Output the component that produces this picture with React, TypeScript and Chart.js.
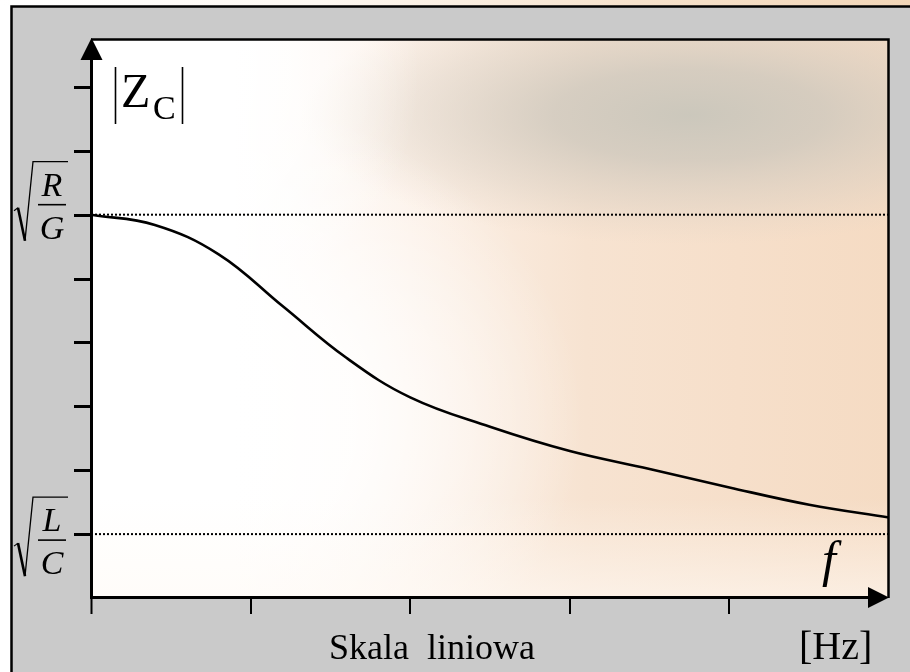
import { useEffect, useRef } from 'react';
import { Chart, registerables } from 'chart.js';

Chart.register(...registerables);

// Frequency (linear scale, arbitrary units) and |Zc| magnitude (arbitrary units)
const freq = [0, 0.4, 0.8, 1.2, 1.6, 2.0, 2.5, 3.0, 3.5, 4.0, 4.5, 5.0];
const impedance = [6.0, 5.84, 5.38, 4.57, 3.76, 3.14, 2.68, 2.3, 2.02, 1.73, 1.46, 1.26];
const levelRG = 6; // sqrt(R/G)
const levelLC = 1; // sqrt(L/C)
const xTicks = [0, 1, 2, 3, 4];
const yTicks = [1, 2, 3, 4, 5, 6, 7, 8];
const xMin = 0;
const xMax = 5;
const yMin = 0;
const yMax = 8.75;
const xTitle = 'Skala  liniowa';
const unitLabel = '[Hz]';
const yTitleMain = 'Z';
const yTitleSub = 'C';
const xSymbol = 'f';

const SERIF = '"Liberation Serif", "Times New Roman", serif';

const backdrop = {
  id: 'backdrop',
  beforeDraw(chart: any) {
    const ctx = chart.ctx as CanvasRenderingContext2D;
    const W = chart.width;
    const H = chart.height;
    ctx.save();
    ctx.fillStyle = '#ffffff';
    ctx.fillRect(0, 0, W, H);
    // top strip
    const tg = ctx.createLinearGradient(0, 0, W, 0);
    tg.addColorStop(0, '#ffffff');
    tg.addColorStop(0.35, '#fdf8f2');
    tg.addColorStop(0.7, '#f6e2cc');
    tg.addColorStop(1, '#f2d6b8');
    ctx.fillStyle = tg;
    ctx.fillRect(0, 0, W, 6);
    // gray panel
    ctx.fillStyle = '#cacaca';
    ctx.fillRect(11, 6, W - 11, H - 6);
    ctx.strokeStyle = '#000';
    ctx.lineWidth = 2.5;
    ctx.beginPath();
    ctx.moveTo(11.5, H);
    ctx.lineTo(11.5, 6.5);
    ctx.lineTo(W, 6.5);
    ctx.stroke();

    // plot area background
    const { left, top, right, bottom } = chart.chartArea;
    const w = right - left;
    const h = bottom - top;
    ctx.beginPath();
    ctx.rect(left, top, w, h);
    ctx.clip();
    const g = ctx.createLinearGradient(left, 0, right, 0);
    g.addColorStop(0, '#ffffff');
    g.addColorStop(0.18, '#ffffff');
    g.addColorStop(0.4, '#fcf1e8');
    g.addColorStop(0.62, '#f7e3d1');
    g.addColorStop(1, '#f5dbc3');
    ctx.fillStyle = g;
    ctx.fillRect(left, top, w, h);

    // gray cloud upper right
    ctx.save();
    ctx.translate(690, 115);
    ctx.scale(3.0, 1);
    const rg = ctx.createRadialGradient(0, 0, 0, 0, 0, 130);
    rg.addColorStop(0, 'rgba(201,198,187,0.95)');
    rg.addColorStop(0.35, 'rgba(206,200,189,0.8)');
    rg.addColorStop(0.7, 'rgba(215,206,194,0.4)');
    rg.addColorStop(1, 'rgba(225,212,198,0)');
    ctx.fillStyle = rg;
    ctx.beginPath();
    ctx.arc(0, 0, 130, 0, Math.PI * 2);
    ctx.fill();
    ctx.restore();

    // white glow bottom-left / left
    ctx.save();
    ctx.translate(170, 420);
    ctx.scale(1.25, 1);
    const wg = ctx.createRadialGradient(0, 0, 0, 0, 0, 330);
    wg.addColorStop(0, 'rgba(255,255,255,1)');
    wg.addColorStop(0.45, 'rgba(255,255,255,0.85)');
    wg.addColorStop(1, 'rgba(255,255,255,0)');
    ctx.fillStyle = wg;
    ctx.beginPath();
    ctx.arc(0, 0, 330, 0, Math.PI * 2);
    ctx.fill();
    ctx.restore();

    // lighter band near the x axis
    const bg = ctx.createLinearGradient(0, bottom - 100, 0, bottom);
    bg.addColorStop(0, 'rgba(255,250,245,0)');
    bg.addColorStop(1, 'rgba(255,250,245,0.6)');
    ctx.fillStyle = bg;
    ctx.fillRect(left, bottom - 100, w, 100);

    // white top-left
    const tl = ctx.createRadialGradient(140, 70, 0, 140, 70, 280);
    tl.addColorStop(0, 'rgba(255,255,255,1)');
    tl.addColorStop(0.5, 'rgba(255,255,255,0.7)');
    tl.addColorStop(1, 'rgba(255,255,255,0)');
    ctx.fillStyle = tl;
    ctx.fillRect(left, top, w, h);
    ctx.restore();
  },
};

function drawRadical(ctx: CanvasRenderingContext2D, barY: number, num: string, den: string) {
  const topY = barY - 43;
  const botY = barY + 36;
  ctx.save();
  ctx.strokeStyle = '#000';
  ctx.lineJoin = 'miter';
  ctx.lineWidth = 1.2;
  ctx.beginPath();
  ctx.moveTo(14, barY + 6);
  ctx.lineTo(18, barY + 3);
  ctx.stroke();
  ctx.lineWidth = 2.6;
  ctx.beginPath();
  ctx.moveTo(18, barY + 3);
  ctx.lineTo(25, botY);
  ctx.stroke();
  ctx.lineWidth = 1.3;
  ctx.beginPath();
  ctx.moveTo(25, botY);
  ctx.lineTo(33, topY);
  ctx.lineTo(68, topY);
  ctx.stroke();
  ctx.lineWidth = 1.6;
  ctx.beginPath();
  ctx.moveTo(38, barY);
  ctx.lineTo(66, barY);
  ctx.stroke();
  ctx.fillStyle = '#000';
  ctx.font = `italic 34px ${SERIF}`;
  ctx.textAlign = 'center';
  ctx.textBaseline = 'alphabetic';
  ctx.fillText(num, 52, barY - 9);
  ctx.fillText(den, 52, barY + 34);
  ctx.restore();
}

const axesDecor = {
  id: 'axesDecor',
  afterDatasetsDraw(chart: any) {
    const ctx = chart.ctx as CanvasRenderingContext2D;
    const { left, top, right, bottom } = chart.chartArea;
    const xs = chart.scales.x;
    const ys = chart.scales.y;
    ctx.save();
    ctx.strokeStyle = '#000';
    ctx.fillStyle = '#000';
    ctx.lineCap = 'butt';
    // top & right frame
    ctx.lineWidth = 2.5;
    ctx.beginPath();
    ctx.moveTo(left, top + 0.5);
    ctx.lineTo(right - 0.5, top + 0.5);
    ctx.lineTo(right - 0.5, bottom);
    ctx.stroke();
    // y axis
    ctx.lineWidth = 3;
    ctx.beginPath();
    ctx.moveTo(left + 0.5, top + 15);
    ctx.lineTo(left + 0.5, bottom + 1);
    ctx.stroke();
    // x axis
    ctx.beginPath();
    ctx.moveTo(left, bottom - 0.5);
    ctx.lineTo(right - 15, bottom - 0.5);
    ctx.stroke();
    // arrows
    ctx.beginPath();
    ctx.moveTo(left + 0.5, top - 1);
    ctx.lineTo(left - 10.5, top + 21);
    ctx.lineTo(left + 11.5, top + 21);
    ctx.closePath();
    ctx.fill();
    ctx.beginPath();
    ctx.moveTo(right, bottom - 0.5);
    ctx.lineTo(right - 21, bottom - 11);
    ctx.lineTo(right - 21, bottom + 10);
    ctx.closePath();
    ctx.fill();
    // y ticks
    ctx.lineWidth = 3;
    for (const v of yTicks) {
      const py = Math.round(ys.getPixelForValue(v)) + 0.5;
      ctx.beginPath();
      ctx.moveTo(left - 17, py);
      ctx.lineTo(left, py);
      ctx.stroke();
    }
    // x ticks
    ctx.lineWidth = 2;
    for (const v of xTicks) {
      const px = Math.round(xs.getPixelForValue(v)) + (v === 0 ? 0.5 : 0);
      ctx.beginPath();
      ctx.moveTo(px, bottom);
      ctx.lineTo(px, bottom + 16);
      ctx.stroke();
    }
    // y labels (radicals)
    drawRadical(ctx, ys.getPixelForValue(levelRG) - 10, 'R', 'G');
    drawRadical(ctx, ys.getPixelForValue(levelLC) + 6, 'L', 'C');

    // |Zc|
    ctx.lineWidth = 1.6;
    ctx.beginPath();
    ctx.moveTo(115.5, 67);
    ctx.lineTo(115.5, 124);
    ctx.moveTo(182.5, 67);
    ctx.lineTo(182.5, 124);
    ctx.stroke();
    ctx.textAlign = 'left';
    ctx.textBaseline = 'alphabetic';
    ctx.font = `48px ${SERIF}`;
    ctx.fillText(yTitleMain, 121, 107);
    ctx.font = `34px ${SERIF}`;
    ctx.fillText(yTitleSub, 153, 119);

    // f
    ctx.font = `italic 50px ${SERIF}`;
    ctx.textAlign = 'center';
    ctx.fillText(xSymbol, 829, 576);

    // bottom texts
    ctx.font = `36px ${SERIF}`;
    ctx.textAlign = 'center';
    ctx.fillText(xTitle, 432, 659);
    ctx.font = `40px ${SERIF}`;
    ctx.textAlign = 'left';
    ctx.fillText(unitLabel, 799, 659);
    ctx.restore();
  },
};

export default function App() {
  const ref = useRef<HTMLCanvasElement>(null);
  useEffect(() => {
    const canvas = ref.current;
    if (!canvas) return;
    const chart = new Chart(canvas, {
      type: 'line',
      data: {
        datasets: [
          {
            label: '|Zc|',
            data: freq.map((x, i) => ({ x, y: impedance[i] })),
            borderColor: '#000',
            borderWidth: 2.6,
            tension: 0.4,
            pointRadius: 0,
            fill: false,
            order: 0,
          },
          {
            label: 'sqrt(R/G)',
            data: [
              { x: xMin, y: levelRG },
              { x: xMax, y: levelRG },
            ],
            borderColor: '#000',
            borderWidth: 2,
            borderDash: [2, 2],
            pointRadius: 0,
            fill: false,
            order: 1,
          },
          {
            label: 'sqrt(L/C)',
            data: [
              { x: xMin, y: levelLC },
              { x: xMax, y: levelLC },
            ],
            borderColor: '#000',
            borderWidth: 2,
            borderDash: [2, 2],
            pointRadius: 0,
            fill: false,
            order: 1,
          },
        ],
      },
      options: {
        animation: false,
        responsive: false,
        devicePixelRatio: 1,
        layout: { padding: { left: 91, top: 39, right: 21, bottom: 74 } },
        scales: {
          x: { type: 'linear', min: xMin, max: xMax, display: false },
          y: { type: 'linear', min: yMin, max: yMax, display: false },
        },
        plugins: {
          legend: { display: false },
          tooltip: { enabled: false },
        },
        elements: { point: { radius: 0 } },
      },
      plugins: [backdrop, axesDecor],
    } as any);
    return () => chart.destroy();
  }, []);
  return (
    <div style={{ position: 'fixed', left: 0, top: 0, width: 910, height: 672 }}>
      <canvas ref={ref} width={910} height={672} style={{ display: 'block' }} />
    </div>
  );
}
